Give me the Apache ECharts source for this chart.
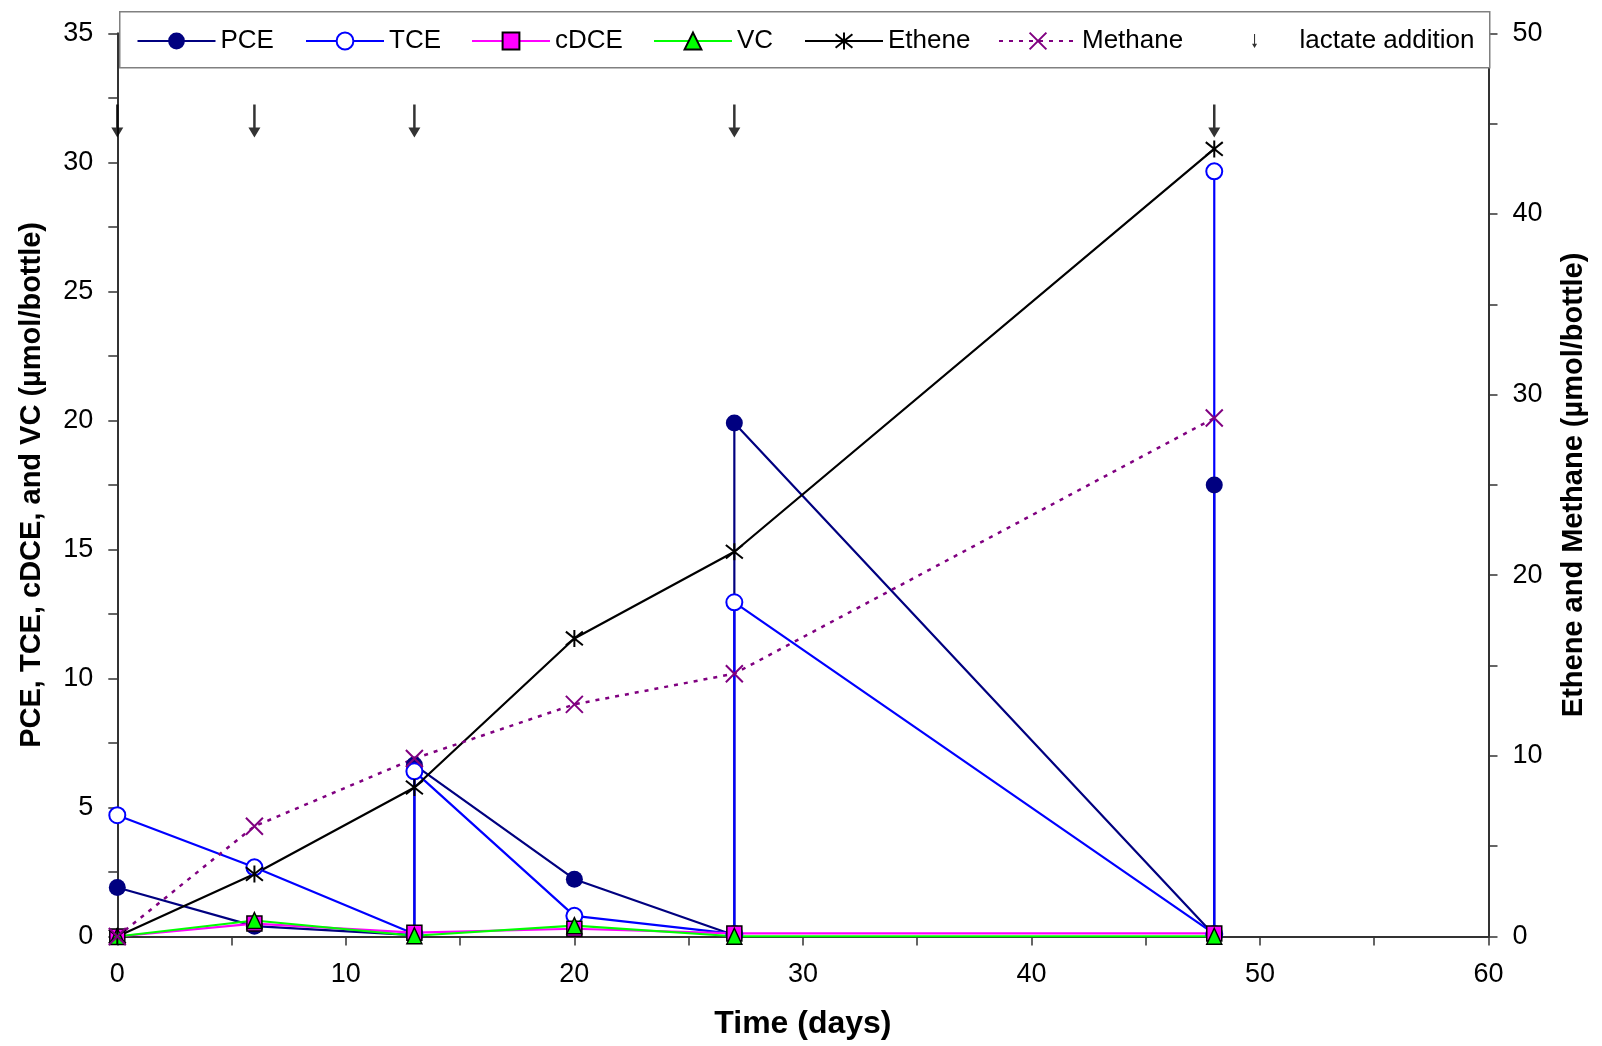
<!DOCTYPE html>
<html>
<head>
<meta charset="utf-8">
<script src="https://cdn.jsdelivr.net/npm/echarts@6/dist/echarts.min.js"></script>
<style>
html,body{margin:0;padding:0;background:#fff;}
#chart{width:1602px;height:1046px;}
</style>
</head>
<body>
<div id="chart"></div>
<script>
// ---- data ----
const pceDays   = [0, 6, 13, 13, 20, 27, 27, 48, 48];
const pceValues = [1.9, 0.4, 0.05, 6.65, 2.22, 0.05, 19.9, 0.05, 17.5];
const tceDays   = [0, 6, 13, 13, 20, 27, 27, 48, 48];
const tceValues = [4.7, 2.68, 0.1, 6.4, 0.8, 0.1, 12.95, 0.1, 29.65];
const days        = [0, 6, 13, 20, 27, 48];
const cdceValues  = [0, 0.5, 0.15, 0.3, 0.12, 0.12];
const vcValues    = [0, 0.62, 0.03, 0.42, 0.01, 0.01];
const etheneValues  = [0, 3.46, 8.25, 16.5, 21.3, 43.6];
const methaneValues = [0, 6.1, 9.85, 12.85, 14.55, 28.7];
const lactateDays  = [0, 6, 13, 27, 48];
const lactateLevel = [31.6, 31.6, 31.6, 31.6, 31.6];
const seriesNames = ['PCE', 'TCE', 'cDCE', 'VC', 'Ethene', 'Methane', 'lactate addition'];

const pairs = (xs, ys) => xs.map((x, i) => [x, ys[i]]);

const FONT = '"Liberation Sans", Arial, Helvetica, sans-serif';
const axisColor = '#333';
const starPath = 'path://M0,1L10,9M10,1L0,9M5,0L5,10';
const crossPath = 'path://M0,0L10,10M10,0L0,10';
const arrowPath = 'path://M4.75,0L7.25,0L7.25,23L12,23L6,33L0,23L4.75,23Z';

const legendTop = 28;
function mkLegend(name, left, extra) {
  return Object.assign({
    data: [name], left: left, top: legendTop, padding: 0,
    itemWidth: 78, itemHeight: 21, selectedMode: false,
    textStyle: {fontFamily: FONT, fontSize: 26, color: '#000', lineHeight: 26}
  }, extra || {});
}

const option = {
  animation: false,
  backgroundColor: '#fff',
  grid: {left: 117.3, top: 33.3, right: 113.5, bottom: 109.5, containLabel: false},
  graphic: [{
    type: 'rect', left: 119, top: 11, z: 3,
    shape: {width: 1370, height: 56},
    style: {fill: '#fff', stroke: '#808080', lineWidth: 1.5}
  }],
  legend: [
    mkLegend(seriesNames[0], 136.5),
    mkLegend(seriesNames[1], 305),
    mkLegend(seriesNames[2], 471),
    mkLegend(seriesNames[3], 653),
    mkLegend(seriesNames[4], 804),
    mkLegend(seriesNames[5], 998),
    mkLegend(seriesNames[6], 1252, {itemWidth: 6, itemHeight: 14,
      textStyle: {fontFamily: FONT, fontSize: 26, color: '#000', lineHeight: 26, padding: [0, 0, 0, 37]}})
  ],
  xAxis: {
    type: 'value', min: 0, max: 60, interval: 10,
    name: 'Time (days)', nameLocation: 'middle', nameGap: 72,
    nameTextStyle: {fontFamily: FONT, fontSize: 32, fontWeight: 'bold', color: '#000'},
    axisLine: {show: true, onZero: false, lineStyle: {color: axisColor, width: 2}},
    axisTick: {show: true, length: 9, lineStyle: {color: axisColor, width: 1.5}},
    minorTick: {show: true, splitNumber: 2, length: 9, lineStyle: {color: axisColor, width: 1.5}},
    axisLabel: {fontFamily: FONT, fontSize: 27, color: '#000', margin: 25},
    splitLine: {show: false}, minorSplitLine: {show: false}
  },
  yAxis: [{
    type: 'value', min: 0, max: 35, interval: 5, position: 'left',
    name: 'PCE, TCE, cDCE, and VC (\u00b5mol/bottle)', nameLocation: 'middle', nameGap: 71,
    nameTextStyle: {fontFamily: FONT, fontSize: 29, fontWeight: 'bold', color: '#000'},
    axisLine: {show: true, onZero: false, lineStyle: {color: axisColor, width: 2}},
    axisTick: {show: true, length: 9, lineStyle: {color: axisColor, width: 1.5}},
    minorTick: {show: true, splitNumber: 2, length: 9, lineStyle: {color: axisColor, width: 1.5}},
    axisLabel: {fontFamily: FONT, fontSize: 27, color: '#000', margin: 24},
    splitLine: {show: false}, minorSplitLine: {show: false}
  }, {
    type: 'value', min: 0, max: 50, interval: 10, position: 'right',
    name: 'Ethene and Methane (\u00b5mol/bottle)', nameLocation: 'middle', nameGap: 71,
    nameTextStyle: {fontFamily: FONT, fontSize: 29, fontWeight: 'bold', color: '#000'},
    axisLine: {show: true, onZero: false, lineStyle: {color: axisColor, width: 2}},
    axisTick: {show: true, length: 9, lineStyle: {color: axisColor, width: 1.5}},
    minorTick: {show: true, splitNumber: 2, length: 9, lineStyle: {color: axisColor, width: 1.5}},
    axisLabel: {fontFamily: FONT, fontSize: 27, color: '#000', margin: 24},
    splitLine: {show: false}, minorSplitLine: {show: false}
  }],
  series: [{
    name: seriesNames[0], type: 'line', yAxisIndex: 0, clip: false,
    data: pairs(pceDays, pceValues),
    symbol: 'circle', symbolSize: 17,
    lineStyle: {color: '#000080', width: 2.2},
    itemStyle: {color: '#000080'}
  }, {
    name: seriesNames[1], type: 'line', yAxisIndex: 0, clip: false,
    data: pairs(tceDays, tceValues),
    symbol: 'emptyCircle', symbolSize: 16,
    lineStyle: {color: '#0000ff', width: 2.2},
    itemStyle: {color: '#0000ff', borderColor: '#0000ff', borderWidth: 2}
  }, {
    name: seriesNames[2], type: 'line', yAxisIndex: 0, clip: false,
    data: pairs(days, cdceValues),
    symbol: 'rect', symbolSize: 15,
    lineStyle: {color: '#ff00ff', width: 2.2},
    itemStyle: {color: '#ff00ff', borderColor: '#000', borderWidth: 1.5}
  }, {
    name: seriesNames[3], type: 'line', yAxisIndex: 0, clip: false,
    data: pairs(days, vcValues),
    symbol: 'triangle', symbolSize: [15, 16],
    lineStyle: {color: '#00ff00', width: 2.2},
    itemStyle: {color: '#00ff00', borderColor: '#000', borderWidth: 1.5}
  }, {
    name: seriesNames[4], type: 'line', yAxisIndex: 1, clip: false,
    data: pairs(days, etheneValues),
    symbol: starPath, symbolSize: 17,
    lineStyle: {color: '#000', width: 2.2},
    itemStyle: {color: '#000', borderColor: '#000', borderWidth: 2}
  }, {
    name: seriesNames[5], type: 'line', yAxisIndex: 1, clip: false,
    data: pairs(days, methaneValues),
    symbol: crossPath, symbolSize: 17,
    lineStyle: {color: '#800080', width: 2.5, type: [4, 6]},
    itemStyle: {color: '#800080', borderColor: '#800080', borderWidth: 2}
  }, {
    name: seriesNames[6], type: 'scatter', yAxisIndex: 0, clip: false,
    data: pairs(lactateDays, lactateLevel),
    symbol: arrowPath, symbolSize: [12, 33],
    itemStyle: {color: '#000'}
  }]
};

const chart = echarts.init(document.getElementById('chart'), null, {renderer: 'canvas'});
chart.setOption(option);
</script>
</body>
</html>
